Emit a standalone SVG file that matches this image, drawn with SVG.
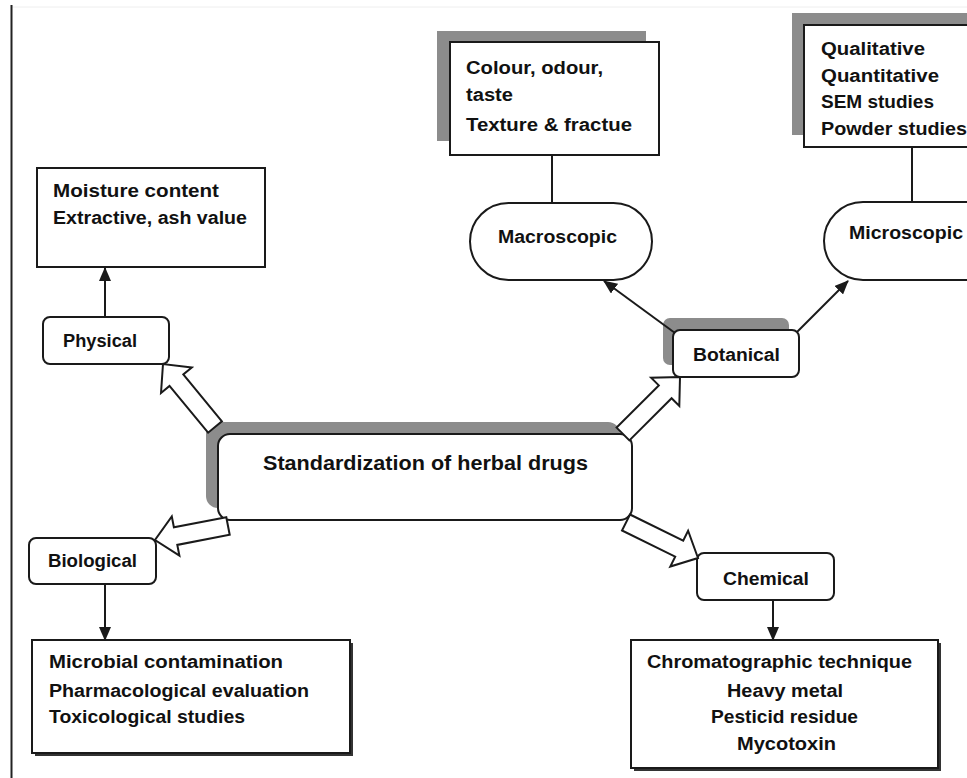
<svg xmlns="http://www.w3.org/2000/svg" width="967" height="778" viewBox="0 0 967 778">
<style>
.t{font-family:"Liberation Sans",Arial,sans-serif;font-weight:bold;font-size:18px;fill:#111}
.box{fill:#fff;stroke:#1a1a1a;stroke-width:2}
.sh{fill:#8c8c8c}
.dsh{fill:#333}
.ln{stroke:#1a1a1a;stroke-width:2;fill:none}
.blk{fill:#fff;stroke:#1a1a1a;stroke-width:2;stroke-linejoin:miter}
</style>
<defs>
<marker id="ah" markerUnits="userSpaceOnUse" markerWidth="14" markerHeight="12" refX="13" refY="6" orient="auto">
<path d="M0,0 L14,6 L0,12 Z" fill="#1a1a1a"/>
</marker>
</defs>
<rect width="967" height="778" fill="#fff"/>
<line x1="11" y1="7" x2="967" y2="7" stroke="#eeeeee" stroke-width="1"/>
<line x1="11.5" y1="5" x2="11.5" y2="778" stroke="#222" stroke-width="2"/>

<g id="moisture">
<rect class="box" x="37" y="168" width="228" height="99"/>
<text class="t" x="53" y="197" textLength="166" lengthAdjust="spacingAndGlyphs">Moisture content</text>
<text class="t" x="53" y="224" textLength="194" lengthAdjust="spacingAndGlyphs">Extractive, ash value</text>
</g>

<g id="physical">
<rect class="box" x="43" y="317" width="126" height="47" rx="7"/>
<text class="t" x="63" y="347" textLength="74" lengthAdjust="spacingAndGlyphs">Physical</text>
</g>

<g id="macro-details">
<rect class="sh" x="437" y="31" width="209" height="110"/>
<rect class="box" x="450" y="42" width="209" height="113"/>
<text class="t" x="466" y="74" textLength="137" lengthAdjust="spacingAndGlyphs">Colour, odour,</text>
<text class="t" x="466" y="101" textLength="47" lengthAdjust="spacingAndGlyphs">taste</text>
<text class="t" x="466" y="131" textLength="166" lengthAdjust="spacingAndGlyphs">Texture &amp; fractue</text>
</g>

<g id="micro-details">
<rect class="sh" x="792" y="13" width="220" height="122"/>
<rect class="box" x="804" y="25" width="220" height="122"/>
<text class="t" x="821" y="55" textLength="104" lengthAdjust="spacingAndGlyphs">Qualitative</text>
<text class="t" x="821" y="82" textLength="118" lengthAdjust="spacingAndGlyphs">Quantitative</text>
<text class="t" x="821" y="108" textLength="113" lengthAdjust="spacingAndGlyphs">SEM studies</text>
<text class="t" x="821" y="135" textLength="146" lengthAdjust="spacingAndGlyphs">Powder studies</text>
</g>

<g id="macroscopic">
<rect class="box" x="470" y="203" width="182" height="77" rx="38.5"/>
<text class="t" x="498" y="243" textLength="119" lengthAdjust="spacingAndGlyphs">Macroscopic</text>
</g>

<g id="microscopic">
<rect class="box" x="824" y="202" width="182" height="78" rx="39"/>
<text class="t" x="849" y="239" textLength="114" lengthAdjust="spacingAndGlyphs">Microscopic</text>
</g>

<g id="botanical">
<rect class="sh" x="663" y="318" width="126" height="47" rx="7"/>
<rect class="box" x="673" y="330" width="126" height="47" rx="7"/>
<text class="t" x="693" y="361" textLength="87" lengthAdjust="spacingAndGlyphs">Botanical</text>
</g>

<g id="main">
<rect class="sh" x="206" y="422" width="414" height="86" rx="12"/>
<rect class="box" x="218" y="434" width="414" height="86" rx="12"/>
<text class="t" x="263" y="470" font-size="20" style="font-size:20px" textLength="325" lengthAdjust="spacingAndGlyphs">Standardization of herbal drugs</text>
</g>

<g id="biological">
<rect class="box" x="29" y="538" width="127" height="46" rx="7"/>
<text class="t" x="48" y="567" textLength="89" lengthAdjust="spacingAndGlyphs">Biological</text>
</g>

<g id="chemical">
<rect class="box" x="697" y="553" width="137" height="47" rx="7"/>
<text class="t" x="723" y="585" textLength="86" lengthAdjust="spacingAndGlyphs">Chemical</text>
</g>

<g id="bio-details">
<rect class="dsh" x="35" y="643" width="318" height="113"/>
<rect class="box" x="32" y="640" width="318" height="113"/>
<text class="t" x="49" y="668" textLength="234" lengthAdjust="spacingAndGlyphs">Microbial contamination</text>
<text class="t" x="49" y="697" textLength="260" lengthAdjust="spacingAndGlyphs">Pharmacological evaluation</text>
<text class="t" x="49" y="723" textLength="196" lengthAdjust="spacingAndGlyphs">Toxicological studies</text>
</g>

<g id="chem-details">
<rect class="dsh" x="634" y="643" width="307" height="128"/>
<rect class="box" x="631" y="640" width="307" height="128"/>
<text class="t" x="647" y="668" textLength="265" lengthAdjust="spacingAndGlyphs">Chromatographic technique</text>
<text class="t" x="727" y="697" textLength="116" lengthAdjust="spacingAndGlyphs">Heavy metal</text>
<text class="t" x="711" y="723" textLength="147" lengthAdjust="spacingAndGlyphs">Pesticid residue</text>
<text class="t" x="737" y="750" textLength="99" lengthAdjust="spacingAndGlyphs">Mycotoxin</text>
</g>

<g id="connectors">
<line class="ln" x1="105" y1="317" x2="105" y2="268" marker-end="url(#ah)"/>
<line class="ln" x1="105" y1="584" x2="105" y2="640" marker-end="url(#ah)"/>
<line class="ln" x1="773" y1="600" x2="773" y2="640" marker-end="url(#ah)"/>
<line class="ln" x1="675" y1="333" x2="604" y2="281" marker-end="url(#ah)"/>
<line class="ln" x1="797" y1="332" x2="848" y2="281" marker-end="url(#ah)"/>
<line class="ln" x1="552" y1="155" x2="552" y2="203"/>
<line class="ln" x1="912" y1="147" x2="912" y2="202"/>
<polygon class="blk" points="221.9,421.3 183.3,374.5 191.8,367.5 163,364 161,392.9 169.5,385.9 208.1,432.7"/>
<polygon class="blk" points="629.4,440.4 671.6,398.2 679.3,405.9 680,377 651.1,377.7 658.8,385.4 616.6,427.6"/>
<polygon class="blk" points="226.3,517.2 173.9,527.3 171.8,516.5 155,540 179.4,555.7 177.3,544.9 229.7,534.8"/>
<polygon class="blk" points="630,514.5 683.2,540.6 688.1,530.7 698,558 670.3,566.5 675.2,556.6 622,530.5"/>
</g>
</svg>
